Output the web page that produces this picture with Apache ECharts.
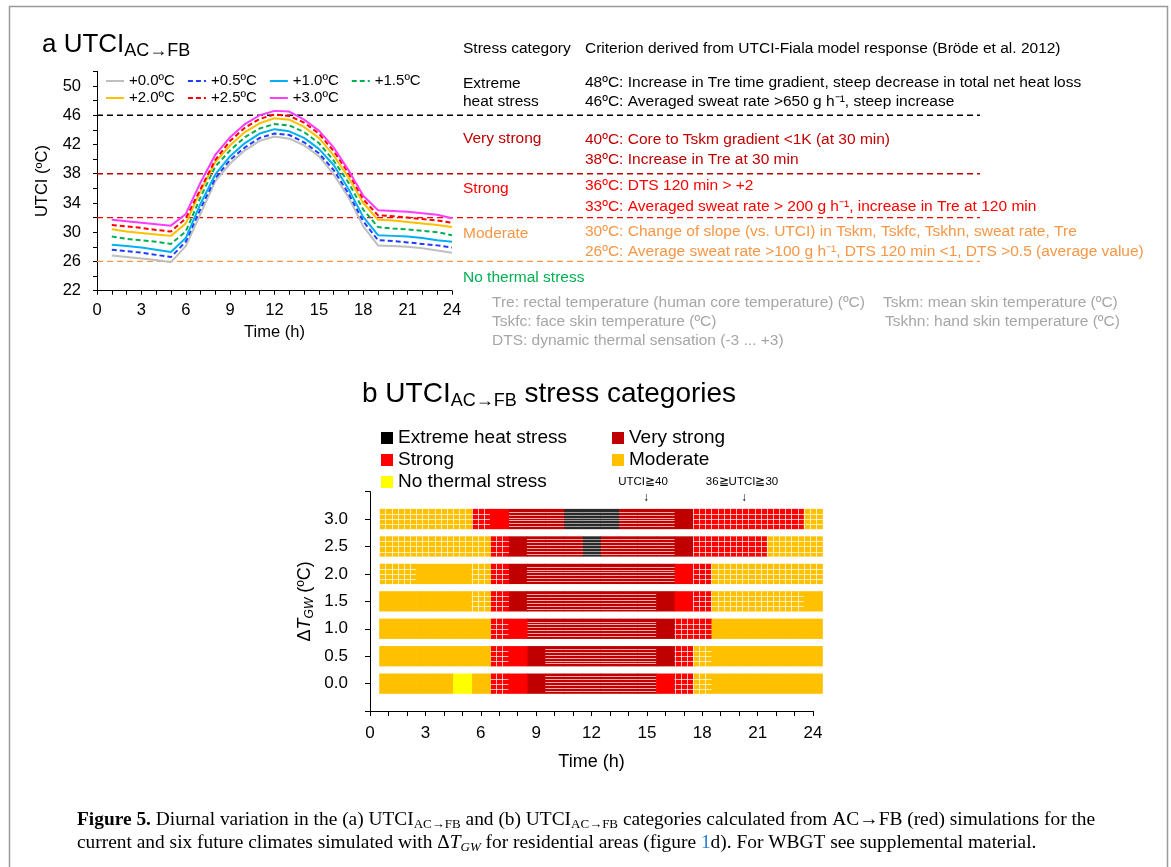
<!DOCTYPE html>
<html><head><meta charset="utf-8">
<script src="https://cdn.jsdelivr.net/npm/echarts@6/dist/echarts.min.js"></script>
<style>html,body{margin:0;padding:0;background:#fff}#c{width:1171px;height:867px}</style>
</head><body><div id="c"></div>
<script>
// ---------- DATA: panel a ----------
const hours = [1,2,3,4,5,6,7,8,9,10,11,12,13,14,15,16,17,18,19,20,21,22,23,24];
const legendNames = ['+0.0ºC','+0.5ºC','+1.0ºC','+1.5ºC','+2.0ºC','+2.5ºC','+3.0ºC'];
const utci00 = [26.8,26.6,26.4,26.2,25.9,28.1,32.5,37.0,39.4,41.2,42.5,43.1,42.8,41.9,40.4,37.9,34.8,30.8,28.2,28.1,28.0,27.8,27.5,27.2];
const utci05 = [27.6,27.4,27.2,26.9,26.6,28.7,33.2,37.4,39.9,41.6,42.9,43.5,43.3,42.3,40.8,38.5,35.3,31.5,28.9,28.8,28.6,28.4,28.2,27.9];
const utci10 = [28.3,28.1,27.9,27.6,27.3,29.2,33.9,37.9,40.4,42.2,43.5,44.1,43.8,42.9,41.4,39.2,35.9,32.1,29.6,29.5,29.4,29.2,28.9,28.7];
const utci15 = [29.4,29.1,28.9,28.7,28.4,30.1,34.8,39.0,41.2,43.0,44.2,44.8,44.6,43.7,42.2,39.8,36.8,33.1,30.7,30.5,30.4,30.2,30.0,29.6];
const utci20 = [30.4,30.1,29.9,29.7,29.5,31.2,35.6,39.6,41.9,43.7,44.9,45.6,45.4,44.4,42.9,40.5,37.5,34.0,31.7,31.6,31.4,31.2,31.0,30.7];
const utci25 = [31.0,30.8,30.6,30.3,30.1,31.9,35.9,39.9,42.5,44.3,45.5,46.1,45.9,45.0,43.5,41.1,38.1,34.5,32.3,32.2,32.0,31.8,31.6,31.3];
const utci30 = [31.7,31.5,31.3,31.1,30.9,32.5,36.8,40.6,43.0,44.8,46.0,46.6,46.5,45.4,43.9,41.6,38.5,35.0,33.0,32.9,32.8,32.6,32.4,31.9];
const thresholds = [46, 38, 32, 26];

// ---------- DATA: panel b ----------
// codes: Y no thermal, O moderate, o moderate(30-36), R strong, r strong(30-36), D very strong, d very strong(>=40), k extreme(>=40)
const dTgw = [0.0, 0.5, 1.0, 1.5, 2.0, 2.5, 3.0];
const cat00 = 'OOOOYOrRDddddddRroOOOOOO'.split('');
const cat05 = 'OOOOOOrRDddddddDroOOOOOO'.split('');
const cat10 = 'OOOOOOrRdddddddDrrOOOOOO'.split('');
const cat15 = 'OOOOOorDdddddddDRroooooO'.split('');
const cat20 = 'ooOOOorDddddddddRroooooo'.split('');
const cat25 = 'oooooorDdddkddddDrrrrooo'.split('');
const cat30 = 'ooooorRdddkkkdddDrrrrrro'.split('');
const categoryNames = ['Extreme heat stress','Very strong','Strong','Moderate','No thermal stress'];

// ---------- STYLE ----------
const SANS = 'Liberation Sans, Arial, sans-serif';
const SERIF = 'Liberation Serif, Times New Roman, serif';
const lineColors = ['#bfbfbf','#1f3dff','#00b0f0','#00b050','#ffc000','#ff0000','#ff3dff'];
const lineDashed = [false,true,false,true,false,true,false];
const thrColors = ['#000000','#c00000','#ff0000','#f79646'];
const catColors = ['#000000','#c00000','#ff0000','#ffc000','#ffff00'];
const catCodes = [['K','k'],['D','d'],['R','r'],['O','o'],['Y']];
const BAR_H = 0.37;

const chart = echarts.init(document.getElementById('c'), null, {renderer:'canvas'});

const utciSeries = [utci00,utci05,utci10,utci15,utci20,utci25,utci30];
const series = [];
thresholds.forEach((t,i)=>{
  series.push({type:'line', name:'thr'+t, xAxisIndex:1, yAxisIndex:1, data:[[0,t],[1,t]],
    symbol:'none', silent:true, z:1,
    lineStyle:{color:thrColors[i], width:1.3, type:[6,4]}});
});
utciSeries.forEach((arr,i)=>{
  series.push({type:'line', name:legendNames[i], xAxisIndex:0, yAxisIndex:0,
    data: hours.map((h,j)=>[h, arr[j]]), symbol:'none', z:3, silent:true,
    lineStyle:{color:lineColors[i], width:2, type: lineDashed[i] ? [5,3] : 'solid'},
    itemStyle:{color:lineColors[i]}});
});

const catRows = [cat00,cat05,cat10,cat15,cat20,cat25,cat30];
function makeRender(color, stripe){
  return function(params, api){
    const h = api.value(0), row = api.value(1), pat = api.value(2);
    const a = api.coord([h-0.5, row]), b = api.coord([h+0.5, row]);
    const bh = api.size([0, BAR_H])[1];
    const x = a[0], w = b[0]-a[0], y = a[1]-bh/2;
    const ch = [{type:'rect', shape:{x:x, y:y, width:w+0.6, height:bh}, style:{fill:color}}];
    const gs = 'rgba(255,255,255,0.72)';
    if (pat === 1){
      for (let k=0;k<3;k++){ const lx = Math.round(x + k*w/3)+0.5;
        ch.push({type:'line', shape:{x1:lx,y1:y,x2:lx,y2:y+bh}, style:{stroke:gs, lineWidth:1}}); }
      for (let k=1;k<4;k++){ const ly = Math.round(y + k*bh/4)+0.5;
        ch.push({type:'line', shape:{x1:x,y1:ly,x2:x+w+0.6,y2:ly}, style:{stroke:gs, lineWidth:1}}); }
    } else if (pat === 2){
      for (let k=1;k<7;k++){ const ly = Math.round(y + k*bh/7)+0.5;
        ch.push({type:'line', shape:{x1:x,y1:ly,x2:x+w+0.6,y2:ly}, style:{stroke:stripe, lineWidth:1}}); }
    }
    return {type:'group', children:ch};
  };
}
categoryNames.forEach((nm,ci)=>{
  const data = [];
  catRows.forEach((row,ri)=>{
    row.forEach((code,hi)=>{
      if (catCodes[ci].indexOf(code) >= 0){
        let pat = 0;
        if (code==='o' || code==='r') pat = 1;
        if (code==='d' || code==='k') pat = 2;
        data.push([hours[hi], dTgw[ri], pat]);
      }
    });
  });
  series.push({type:'custom', name:nm, xAxisIndex:2, yAxisIndex:2, data:data, silent:true,
    itemStyle:{color:catColors[ci]},
    renderItem: makeRender(ci===0 ? '#2a2a2a' : catColors[ci], ci===0 ? 'rgba(190,190,190,0.8)' : 'rgba(255,200,200,0.85)'),
    encode:{x:0,y:1}});
});

const axisLineStyle = {color:'#000', width:1};
const TS = 15.5;
function txt(x,y,text,color,size,align){
  return {type:'text', x:x, y:y, silent:true,
    style:{text:text, fill:color||'#000', font:(size||TS)+'px '+SANS, textVerticalAlign:'middle', textAlign:align||'left'}};
}
const CS = 19.4;
const graphics = [
  {type:'rect', shape:{x:9.5,y:6.5,width:1158,height:900}, style:{fill:'none', stroke:'#9a9a9a', lineWidth:1.5}, silent:true},
  {type:'text', x:42, y:45, silent:true, style:{text:'{n|a UTCI}{s|AC→FB}', textVerticalAlign:'middle',
    rich:{n:{fontSize:26, fontFamily:SANS, lineHeight:30, fill:'#000'}, s:{fontSize:18, fontFamily:SANS, lineHeight:18, verticalAlign:'bottom', fill:'#000'}}}},
  {type:'text', x:362, y:394, silent:true, style:{text:'{n|b UTCI}{s|AC→FB}{n| stress categories}', textVerticalAlign:'middle',
    rich:{n:{fontSize:28, fontFamily:SANS, lineHeight:32, fill:'#000'}, s:{fontSize:18, fontFamily:SANS, lineHeight:18, verticalAlign:'bottom', fill:'#000'}}}},
  txt(463,49,'Stress category'),
  txt(585,49,'Criterion derived from UTCI-Fiala model response (Bröde et al. 2012)'),
  txt(463,84,'Extreme'), txt(463,102,'heat stress'),
  txt(585,83,'48ºC: Increase in Tre time gradient, steep decrease in total net heat loss'),
  txt(585,102,'46ºC: Averaged sweat rate >650 g h⁻¹, steep increase'),
  txt(463,139,'Very strong','#c00000'),
  txt(585,140,'40ºC: Core to Tskm gradient <1K (at 30 min)','#c00000'),
  txt(585,160,'38ºC: Increase in Tre at 30 min','#c00000'),
  txt(463,189,'Strong','#ff0000'),
  txt(585,186,'36ºC: DTS 120 min > +2','#ff0000'),
  txt(585,207,'33ºC: Averaged sweat rate > 200 g h⁻¹, increase in Tre at 120 min','#ff0000'),
  txt(463,234,'Moderate','#f79646'),
  txt(585,232,'30ºC: Change of slope (vs. UTCI) in Tskm, Tskfc, Tskhn, sweat rate, Tre','#f79646'),
  txt(585,252,'26ºC: Average sweat rate >100 g h⁻¹, DTS 120 min <1, DTS >0.5 (average value)','#f79646'),
  txt(463,278,'No thermal stress','#00b050'),
  txt(492,303,'Tre: rectal temperature (human core temperature) (ºC)','#a6a6a6'),
  txt(883,303,'Tskm: mean skin temperature (ºC)','#a6a6a6'),
  txt(492,322,'Tskfc: face skin temperature (ºC)','#a6a6a6'),
  txt(885,322,'Tskhn: hand skin temperature (ºC)','#a6a6a6'),
  txt(492,341,'DTS: dynamic thermal sensation (-3 ... +3)','#a6a6a6'),
  txt(643,482,'UTCI≧40','#000',11.5,'center'),
  txt(646,498,'↓','#000',12,'center'),
  txt(742,482,'36≧UTCI≧30','#000',11.5,'center'),
  txt(744,498,'↓','#000',12,'center'),
  {type:'text', x:77, y:820, silent:true, style:{textVerticalAlign:'middle',
    text:'{b|Figure 5.}{n| Diurnal variation in the (a) UTCI}{s|AC→FB}{n| and (b) UTCI}{s|AC→FB}{n| categories calculated from AC→FB (red) simulations for the}',
    rich:{b:{fontSize:CS, fontFamily:SERIF, fontWeight:'bold', lineHeight:22, fill:'#000'},
          n:{fontSize:CS, fontFamily:SERIF, lineHeight:22, fill:'#000'},
          s:{fontSize:13, fontFamily:SERIF, lineHeight:13, verticalAlign:'bottom', fill:'#000'}}}},
  {type:'text', x:77, y:843, silent:true, style:{textVerticalAlign:'middle',
    text:'{n|current and six future climates simulated with Δ}{i|T}{s|GW}{n| for residential areas (figure }{bl|1}{n|d). For WBGT see supplemental material.}',
    rich:{n:{fontSize:CS, fontFamily:SERIF, lineHeight:22, fill:'#000'},
          i:{fontSize:CS, fontFamily:SERIF, fontStyle:'italic', lineHeight:22, fill:'#000'},
          bl:{fontSize:CS, fontFamily:SERIF, lineHeight:22, fill:'#2a7fd0'},
          s:{fontSize:13, fontFamily:SERIF, fontStyle:'italic', lineHeight:13, verticalAlign:'bottom', fill:'#000'}}}}
];

const option = {
  animation:false,
  backgroundColor:'#fff',
  grid:[
    {left:97, top:71.4, width:355, height:219.3, containLabel:false, outerBoundsMode:'none'},
    {left:97, top:71.4, width:883, height:219.3, containLabel:false, outerBoundsMode:'none'},
    {left:370, top:491.6, width:443, height:219.5, containLabel:false, outerBoundsMode:'none'}
  ],
  xAxis:[
    {gridIndex:0, type:'value', min:0, max:24, interval:1,
      name:'Time (h)', nameLocation:'middle', nameGap:33, nameTextStyle:{fontSize:16.5, fontFamily:SANS, color:'#000'},
      axisLine:{show:true, onZero:false, lineStyle:axisLineStyle}, axisTick:{show:true, length:4, inside:false, lineStyle:axisLineStyle},
      axisLabel:{show:true, margin:11, fontSize:16.5, fontFamily:SANS, color:'#000', formatter:v => (v%3===0 ? String(v) : ''), showMinLabel:true, showMaxLabel:true},
      splitLine:{show:false}},
    {gridIndex:1, type:'value', min:0, max:1, show:false},
    {gridIndex:2, type:'value', min:0, max:24, interval:1,
      name:'Time (h)', nameLocation:'middle', nameGap:42, nameTextStyle:{fontSize:18, fontFamily:SANS, color:'#000'},
      axisLine:{show:true, onZero:false, lineStyle:axisLineStyle}, axisTick:{show:true, length:5, inside:false, lineStyle:axisLineStyle},
      axisLabel:{show:true, margin:14, fontSize:17, fontFamily:SANS, color:'#000', formatter:v => (v%3===0 ? String(v) : ''), showMinLabel:true, showMaxLabel:true},
      splitLine:{show:false}}
  ],
  yAxis:[
    {gridIndex:0, type:'value', min:22, max:52, interval:2,
      name:'UTCI (ºC)', nameLocation:'middle', nameGap:46, nameRotate:90, nameTextStyle:{fontSize:16.5, fontFamily:SANS, color:'#000'},
      axisLine:{show:true, onZero:false, lineStyle:axisLineStyle}, axisTick:{show:true, length:4, inside:false, lineStyle:axisLineStyle},
      axisLabel:{show:true, margin:16, fontSize:16.5, fontFamily:SANS, color:'#000', formatter:v => ((v-22)%4===0 ? String(v) : ''), showMinLabel:true, showMaxLabel:true},
      splitLine:{show:false}},
    {gridIndex:1, type:'value', min:22, max:52, show:false},
    {gridIndex:2, type:'value', min:-0.5, max:3.5, interval:0.5,
      name:'{n|Δ}{i|T}{s|GW}{n| (ºC)}', nameLocation:'middle', nameGap:54, nameRotate:90,
      nameTextStyle:{fontSize:18, fontFamily:SANS, color:'#000',
        rich:{n:{fontSize:18, fontFamily:SANS, lineHeight:22, color:'#000'},
              i:{fontSize:18, fontFamily:SANS, fontStyle:'italic', lineHeight:22, color:'#000'},
              s:{fontSize:12, fontFamily:SANS, fontStyle:'italic', lineHeight:12, verticalAlign:'bottom', color:'#000'}}},
      axisLine:{show:true, onZero:false, lineStyle:axisLineStyle}, axisTick:{show:true, length:5, inside:false, lineStyle:axisLineStyle},
      axisLabel:{show:true, margin:22, fontSize:17, fontFamily:SANS, color:'#000', formatter:v => ((v<0||v>3) ? '' : v.toFixed(1))},
      splitLine:{show:false}}
  ],
  legend:[
    {data:legendNames.slice(0,4), left:105, top:73.5, padding:0, itemWidth:18, itemHeight:14, itemGap:12, selectedMode:false,
      itemStyle:{opacity:0}, textStyle:{fontSize:15, fontFamily:SANS, color:'#000'}},
    {data:legendNames.slice(4), left:105, top:90.5, padding:0, itemWidth:18, itemHeight:14, itemGap:12, selectedMode:false,
      itemStyle:{opacity:0}, textStyle:{fontSize:15, fontFamily:SANS, color:'#000'}},
    {data:[categoryNames[0],categoryNames[2],categoryNames[4]], orient:'vertical', left:381, top:428.5, padding:0, itemWidth:12, itemHeight:12, itemGap:3, icon:'rect', selectedMode:false,
      textStyle:{fontSize:19, fontFamily:SANS, color:'#000'}},
    {data:[categoryNames[1],categoryNames[3]], orient:'vertical', left:612, top:428.5, padding:0, itemWidth:12, itemHeight:12, itemGap:3, icon:'rect', selectedMode:false,
      textStyle:{fontSize:19, fontFamily:SANS, color:'#000'}}
  ],
  series: series,
  graphic: graphics
};
chart.setOption(option);
</script></body></html>
